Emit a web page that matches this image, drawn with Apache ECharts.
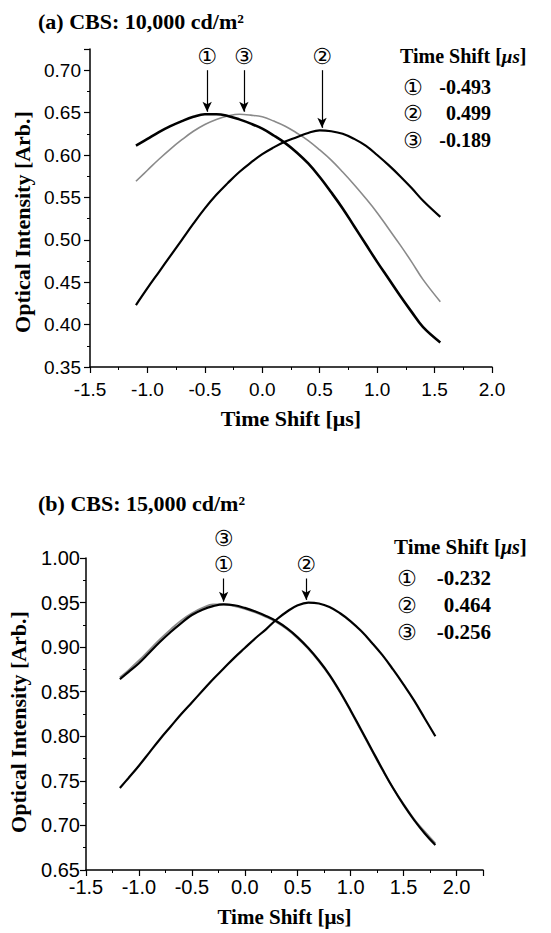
<!DOCTYPE html>
<html>
<head>
<meta charset="UTF-8">
<script src="https://cdn.jsdelivr.net/npm/echarts@6/dist/echarts.min.js"></script>
<style>
  html, body { margin: 0; padding: 0; background: #fff; }
  #main { width: 551px; height: 933px; }
</style>
</head>
<body>
<div id="main"></div>
<script>
// (a) CBS 10,000 cd/m2
var topTime = [-1.1, -1.0, -0.9, -0.8, -0.7, -0.6, -0.5, -0.4, -0.3, -0.2, -0.1, 0.0, 0.1, 0.2, 0.3, 0.4, 0.5, 0.6, 0.7, 0.8, 0.9, 1.0, 1.1, 1.2, 1.3, 1.4, 1.55];
var topCurve1 = [0.611, 0.619, 0.627, 0.634, 0.640, 0.645, 0.648, 0.648, 0.646, 0.642, 0.637, 0.631, 0.623, 0.614, 0.603, 0.590, 0.574, 0.556, 0.537, 0.516, 0.495, 0.474, 0.454, 0.434, 0.415, 0.397, 0.379];
var topCurve2 = [0.423, 0.443, 0.462, 0.481, 0.500, 0.519, 0.537, 0.553, 0.567, 0.580, 0.591, 0.601, 0.609, 0.616, 0.621, 0.626, 0.629, 0.628, 0.625, 0.619, 0.611, 0.600, 0.588, 0.575, 0.561, 0.546, 0.527];
var topCurve3 = [0.569, 0.582, 0.595, 0.607, 0.618, 0.628, 0.636, 0.642, 0.646, 0.648, 0.647, 0.645, 0.640, 0.634, 0.626, 0.617, 0.606, 0.594, 0.580, 0.565, 0.549, 0.532, 0.513, 0.494, 0.474, 0.453, 0.427];
var topShift = [-0.493, 0.499, -0.189];
var topArrowX = [-0.48, 0.52, -0.16];
var topPeak = [0.648, 0.629, 0.648];

// (b) CBS 15,000 cd/m2
var botTime = [-1.18, -1.1, -1.0, -0.9, -0.8, -0.7, -0.6, -0.5, -0.4, -0.3, -0.2, -0.1, 0.0, 0.1, 0.2, 0.3, 0.4, 0.5, 0.6, 0.7, 0.8, 0.9, 1.0, 1.1, 1.2, 1.3, 1.4, 1.5, 1.6, 1.7, 1.8];
var botCurve1 = [0.864, 0.872, 0.882, 0.894, 0.906, 0.917, 0.927, 0.936, 0.942, 0.946, 0.948, 0.947, 0.944, 0.940, 0.935, 0.929, 0.921, 0.911, 0.899, 0.885, 0.869, 0.850, 0.829, 0.807, 0.785, 0.763, 0.742, 0.723, 0.706, 0.691, 0.678];
var botCurve2 = [0.742, 0.753, 0.767, 0.782, 0.797, 0.811, 0.825, 0.838, 0.851, 0.864, 0.876, 0.888, 0.899, 0.910, 0.920, 0.931, 0.940, 0.947, 0.950, 0.949, 0.945, 0.938, 0.929, 0.918, 0.905, 0.891, 0.875, 0.858, 0.840, 0.820, 0.800];
var botCurve3 = [0.866, 0.874, 0.885, 0.897, 0.909, 0.920, 0.930, 0.938, 0.944, 0.948, 0.948, 0.946, 0.943, 0.939, 0.934, 0.928, 0.920, 0.910, 0.898, 0.884, 0.868, 0.849, 0.828, 0.806, 0.784, 0.762, 0.742, 0.724, 0.707, 0.693, 0.680];
var botShift = [-0.232, 0.464, -0.256];
var botArrowX = [-0.2, 0.58];
var botPeak = [0.948, 0.950];

var circled = ['①', '②', '③'];
var topTitle = '(a) CBS: 10,000 cd/m²';
var botTitle = '(b) CBS: 15,000 cd/m²';

var serif = '"Liberation Serif", "Times New Roman", serif';
var sans = '"Liberation Sans", Arial, sans-serif';
var circFont = '"DejaVu Sans", "Noto Sans CJK SC", sans-serif';

function pairs(xs, ys) {
  return xs.map(function (x, i) { return [x, ys[i]]; });
}

// vertical arrow from a circled number down to the peak
function arrow(x, peak, yStart, text) {
  return [
    { coord: [x, yStart], symbol: 'none',
      label: { show: true, position: 'start', formatter: text, distance: 1,
               fontFamily: circFont, fontSize: 22, lineHeight: 26, color: '#000' } },
    { coord: [x, peak + 0.003], symbol: 'arrow', symbolSize: [7, 10] }
  ];
}

function curve(idx, xs, ys, color, width, arrows) {
  var s = {
    type: 'line', xAxisIndex: idx, yAxisIndex: idx,
    data: pairs(xs, ys), showSymbol: false, smooth: 0.4,
    lineStyle: { color: color, width: width }, z: color === '#000' ? 3 : 2
  };
  if (arrows) {
    s.markLine = { silent: true, animation: false, symbol: ['none', 'arrow'],
      lineStyle: { color: '#000', width: 1.2, type: 'solid' }, data: arrows };
  }
  return s;
}

function xAx(idx, max, fs, margin, gap, nameSize) {
  return {
    gridIndex: idx, type: 'value', min: -1.5, max: max, interval: 0.5,
    name: 'Time Shift [μs]', nameLocation: 'middle', nameGap: gap,
    nameTextStyle: { fontFamily: serif, fontWeight: 'bold', fontSize: nameSize, color: '#000' },
    axisLine: { onZero: false, lineStyle: { color: '#000', width: 1.5 } },
    axisTick: { inside: false, length: 6, lineStyle: { color: '#000', width: 1.2 } },
    minorTick: { show: true, splitNumber: 2, length: 3, lineStyle: { color: '#000', width: 1 } },
    axisLabel: { fontFamily: sans, fontSize: fs, color: '#000', margin: margin, showMaxLabel: max === 2.0,
      formatter: function (v) { return v.toFixed(1); } },
    splitLine: { show: false }
  };
}

function yAx(idx, min, max, fs, margin) {
  return {
    gridIndex: idx, type: 'value', min: min, max: max, interval: 0.05,
    axisLine: { onZero: false, lineStyle: { color: '#000', width: 1.5 } },
    axisTick: { inside: false, length: 6, lineStyle: { color: '#000', width: 1.2 } },
    minorTick: { show: true, splitNumber: 2, length: 3, lineStyle: { color: '#000', width: 1 } },
    axisLabel: { fontFamily: sans, fontSize: fs, color: '#000', margin: margin,
      showMaxLabel: (max * 100) % 5 === 0,
      formatter: function (v) { return v.toFixed(2); } },
    splitLine: { show: false }
  };
}

function legendBlock(x, y, size, shifts, rowY) {
  var items = [{
    type: 'text', left: x, top: y - size / 2 - 2,
    style: { text: '{b|Time Shift [}{i|μs}{b|]}', rich: {
      b: { fontFamily: serif, fontWeight: 'bold', fontSize: size, fill: '#000' },
      i: { fontFamily: serif, fontWeight: 'bold', fontStyle: 'italic', fontSize: size - 1, fill: '#000' } } }
  }];
  shifts.forEach(function (s, i) {
    items.push({ type: 'text', x: x + 3, y: rowY[i],
      style: { text: circled[i], font: '22px ' + circFont, fill: '#000', textVerticalAlign: 'middle' } });
    items.push({ type: 'text', x: 491, y: rowY[i],
      style: { text: s.toFixed(3), font: 'bold ' + size + 'px ' + serif, fill: '#000',
               textAlign: 'right', textVerticalAlign: 'middle' } });
  });
  return items;
}

var chart = echarts.init(document.getElementById('main'), null, { renderer: 'svg' });

var graphics = [
  { type: 'text', x: 38, y: 21, style: { text: topTitle, font: 'bold 22px ' + serif, fill: '#000', textVerticalAlign: 'middle' } },
  { type: 'text', x: 38, y: 503, style: { text: botTitle, font: 'bold 22px ' + serif, fill: '#000', textVerticalAlign: 'middle' } },
  { type: 'text', x: 22, y: 222, rotation: Math.PI / 2,
    style: { text: 'Optical Intensity [Arb.]', font: 'bold 22px ' + serif, fill: '#000', textAlign: 'center', textVerticalAlign: 'middle' } },
  { type: 'text', x: 18, y: 722, rotation: Math.PI / 2,
    style: { text: 'Optical Intensity [Arb.]', font: 'bold 22px ' + serif, fill: '#000', textAlign: 'center', textVerticalAlign: 'middle' } }
].concat(legendBlock(400, 58, 20, topShift, [87, 113, 140]))
 .concat(legendBlock(394, 549, 21, botShift, [578, 605, 632]));

chart.setOption({
  animation: false,
  backgroundColor: '#fff',
  grid: [
    { left: 90, top: 49, width: 402, height: 318 },
    { left: 86, top: 558, width: 397, height: 312 }
  ],
  xAxis: [xAx(0, 2.0, 19, 13, 40, 22), xAx(1, 2.25, 20, 7, 36, 21)],
  yAxis: [yAx(0, 0.35, 0.725, 19, 9), yAx(1, 0.65, 1.0, 20, 6)],
  graphic: graphics,
  series: [
    curve(0, topTime, topCurve3, '#8a8a8a', 1.6, [arrow(topArrowX[2], topPeak[2], 0.70, circled[2])]),
    curve(0, topTime, topCurve1, '#000', 2.6, [arrow(topArrowX[0], topPeak[0], 0.70, circled[0])]),
    curve(0, topTime, topCurve2, '#000', 2.2, [arrow(topArrowX[1], topPeak[1], 0.70, circled[1])]),
    curve(1, botTime, botCurve3, '#8a8a8a', 1.8, null),
    curve(1, botTime, botCurve1, '#000', 2.2, [arrow(botArrowX[0], botPeak[0], 0.977, circled[2] + '\n' + circled[0])]),
    curve(1, botTime, botCurve2, '#000', 2.2, [arrow(botArrowX[1], botPeak[1], 0.977, circled[1])])
  ]
});
</script>
</body>
</html>
